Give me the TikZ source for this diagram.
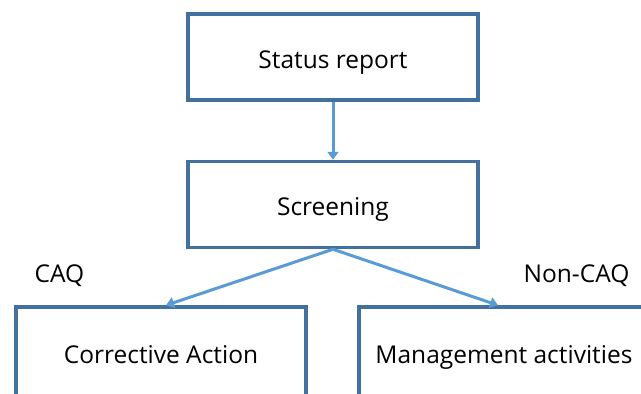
\documentclass[tikz,border=0pt]{standalone}
\usepackage{fontspec}
\setmainfont{Open Sans}
\usetikzlibrary{arrows.meta}
\definecolor{boxblue}{RGB}{65,113,156}
\definecolor{arrowblue}{RGB}{91,155,213}

\begin{document}
\begin{tikzpicture}[x=1pt,y=-1pt,
  box/.style={draw=boxblue,line width=3.5pt,minimum width=290pt,minimum height=86pt,inner sep=0pt,
    text height=22pt,text depth=0pt,font=\fontsize{24.5}{28}\selectfont},
  flow/.style={draw=arrowblue,line width=3pt,-{Triangle[width=11pt,length=8pt]}},
  label/.style={anchor=base,font=\fontsize{24.5}{28}\selectfont}]
  \useasboundingbox (0,0) rectangle (641,394);
  \clip (0,0) rectangle (641,394);
  \node[box] (status) at (333,57) {Status report};
  \node[box] (screening) at (333,204.5) {Screening};
  \node[box,minimum height=90pt] (corrective) at (161,352) {Corrective Action};
  \node[box,minimum height=90pt] (management) at (504,352) {Management activities};
  \node[label] (caq) at (59.5,282) {CAQ};
  \node[label] (noncaq) at (576.5,282) {Non-CAQ};
  \draw[flow] (status.south) -- (screening.north);
  \draw[flow] (screening.south) -- ([xshift=5pt]corrective.north);
  \draw[flow] (screening.south) -- ([xshift=-6pt]management.north);
\end{tikzpicture}
\end{document}
